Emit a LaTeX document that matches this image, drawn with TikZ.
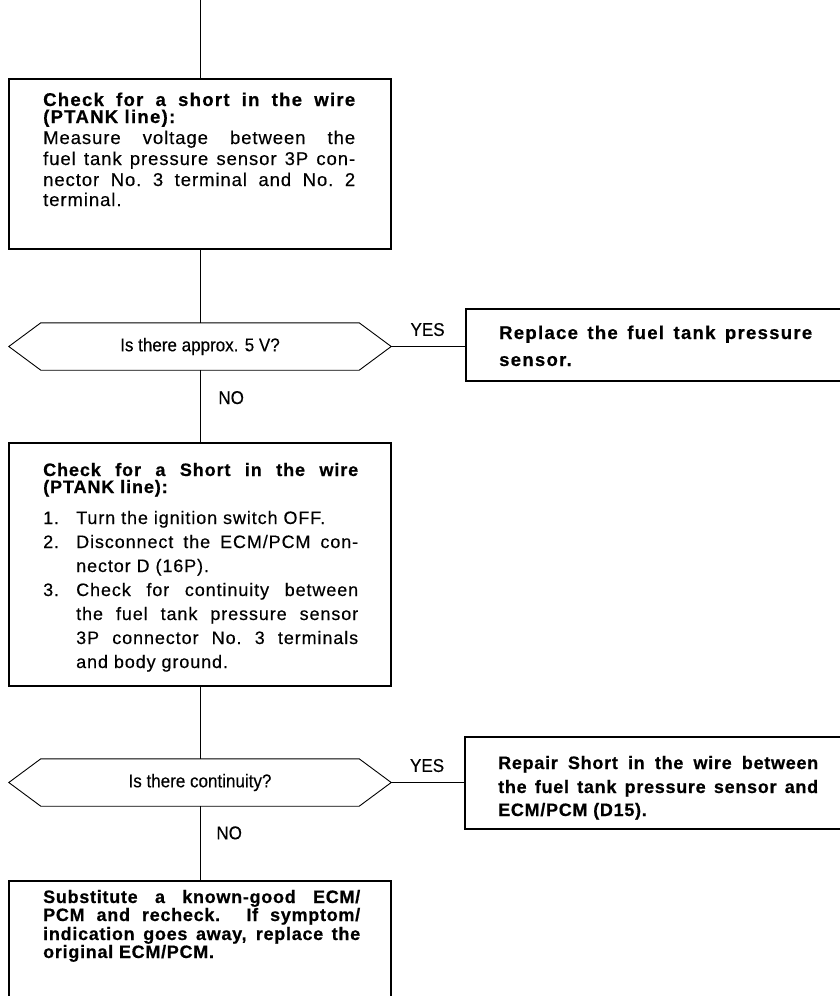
\documentclass[tikz,border=0pt]{standalone}
\usepackage{fontspec}
\setmainfont{Liberation Sans}
\newfontfamily\trkA[LetterSpace=7,FakeBold=0.3,BoldFeatures={FakeBold=0.6}]{Liberation Sans}
\newfontfamily\trkB[LetterSpace=5,FakeBold=0.3,BoldFeatures={FakeBold=0.6}]{Liberation Sans}
\newfontfamily\trkC[LetterSpace=4,FakeBold=0.3,BoldFeatures={FakeBold=0.6}]{Liberation Sans}
\newfontfamily\narrowf[FakeStretch=0.92,FakeBold=0.3]{Liberation Sans}
\begin{document}
\begin{tikzpicture}[x=1pt,y=-1pt,
  box/.style={draw, line width=1.2pt, inner sep=0pt},
  dec/.style={inner sep=0pt, minimum width=382pt, minimum height=47pt, font=\fontsize{18.5}{20}\selectfont\narrowf},
  conn/.style={line width=0.8pt},
  lbl/.style={inner sep=0pt, font=\fontsize{18.5}{20}\selectfont\narrowf},
  bA/.style={inner sep=0pt, anchor=base west, font=\fontsize{18.5}{20}\selectfont\trkA\bfseries},
  rA/.style={inner sep=0pt, anchor=base west, font=\fontsize{18.5}{20}\selectfont\trkB},
  b3/.style={inner sep=0pt, anchor=base west, font=\fontsize{18}{20}\selectfont\trkB\bfseries},
  r3/.style={inner sep=0pt, anchor=base west, font=\fontsize{18}{20}\selectfont\trkB},
  bC/.style={inner sep=0pt, anchor=base west, font=\fontsize{18}{20}\selectfont\trkC\bfseries}]
\newcommand\J[2]{\makebox[#1pt][s]{#2}}
\useasboundingbox (0,0) rectangle (840,996);

% boxes
\node[box, minimum width=382pt, minimum height=170pt] (b1) at (200,164) {};
\node[dec] (d1) at (200,346.5) {Is there approx. 5 V?};
\node[box, minimum width=380pt, minimum height=72pt] (b2) at (656,345) {};
\node[box, minimum width=382pt, minimum height=243pt] (b3) at (200,564.5) {};
\node[dec] (d2) at (200,782.5) {Is there continuity?};
\node[box, minimum width=381pt, minimum height=92pt] (b4) at (655.5,783) {};
\node[box, minimum width=382pt, minimum height=129pt] (b5) at (200,945.5) {};

% decision outlines
\foreach \d in {d1,d2}{
  \draw[line width=0.9pt] (\d.west) -- ([xshift=32pt]\d.north west) -- ([xshift=-32pt]\d.north east)
    -- (\d.east) -- ([xshift=-32pt]\d.south east) -- ([xshift=32pt]\d.south west) -- cycle;
}

% box 1 text
\node[bA] (t1a) at (43,106) {\J{312}{Check for a short in the wire}};
\node[bA] (t1b) at (43,123) {(PTANK line):};
\node[rA] (t1c) at (43,144) {\J{312}{Measure voltage between the}};
\node[rA] (t1d) at (43,165) {\J{312}{fuel tank pressure sensor 3P con-}};
\node[rA] (t1e) at (43,186) {\J{312}{nector No.~3 terminal and No.~2}};
\node[rA] (t1f) at (43,206) {terminal.};

% box 2 text
\node[bA] (t2a) at (499,339) {\J{313}{Replace the fuel tank pressure}};
\node[bA] (t2b) at (499,366) {sensor.};

% box 3 text
\node[b3] (t3a) at (43,476) {\J{315}{Check for a Short in the wire}};
\node[b3] (t3b) at (43,493) {(PTANK line):};
\node[r3] (t3n1) at (43,524) {1.};
\node[r3] (t3c) at (76,524) {Turn the ignition switch OFF.};
\node[r3] (t3n2) at (43,548) {2.};
\node[r3] (t3d) at (76,548) {\J{282}{Disconnect the ECM/PCM con-}};
\node[r3] (t3e) at (76,572) {nector D (16P).};
\node[r3] (t3n3) at (43,596) {3.};
\node[r3] (t3f) at (76,596) {\J{282}{Check for continuity between}};
\node[r3] (t3g) at (76,620) {\J{282}{the fuel tank pressure sensor}};
\node[r3] (t3h) at (76,644) {\J{282}{3P connector No.~3 terminals}};
\node[r3] (t3i) at (76,668) {and body ground.};

% box 4 text
\node[bC] (t4a) at (498,769) {\J{320}{Repair Short in the wire between}};
\node[bC] (t4b) at (498,793) {\J{320}{the fuel tank pressure sensor and}};
\node[bC] (t4c) at (498,816) {ECM/PCM (D15).};

% box 5 text
\node[bC] (t5a) at (43,903) {\J{317}{Substitute a known-good ECM/}};
\node[bC] (t5b) at (43,921) {\J{317}{PCM and recheck. If symptom/}};
\node[bC] (t5c) at (43,940) {\J{317}{indication goes away, replace the}};
\node[bC] (t5d) at (43,958) {original ECM/PCM.};

% connectors
\coordinate (start) at (200,0);
\draw[conn] (start) -- (b1.north);
\draw[conn] (b1.south) -- (d1.north);
\draw[conn] (d1.east) -- node[lbl, pos=0.49, above=10pt] (yes1) {YES} (d1.east -| b2.west);
\draw[conn] (d1.south) -- node[lbl, pos=0.38, right=18pt] (no1) {NO} (b3.north);
\draw[conn] (b3.south) -- (d2.north);
\draw[conn] (d2.east) -- node[lbl, pos=0.49, above=10pt] (yes2) {YES} (d2.east -| b4.west);
\draw[conn] (d2.south) -- node[lbl, pos=0.36, right=16pt] (no2) {NO} (b5.north);
\end{tikzpicture}
\end{document}
